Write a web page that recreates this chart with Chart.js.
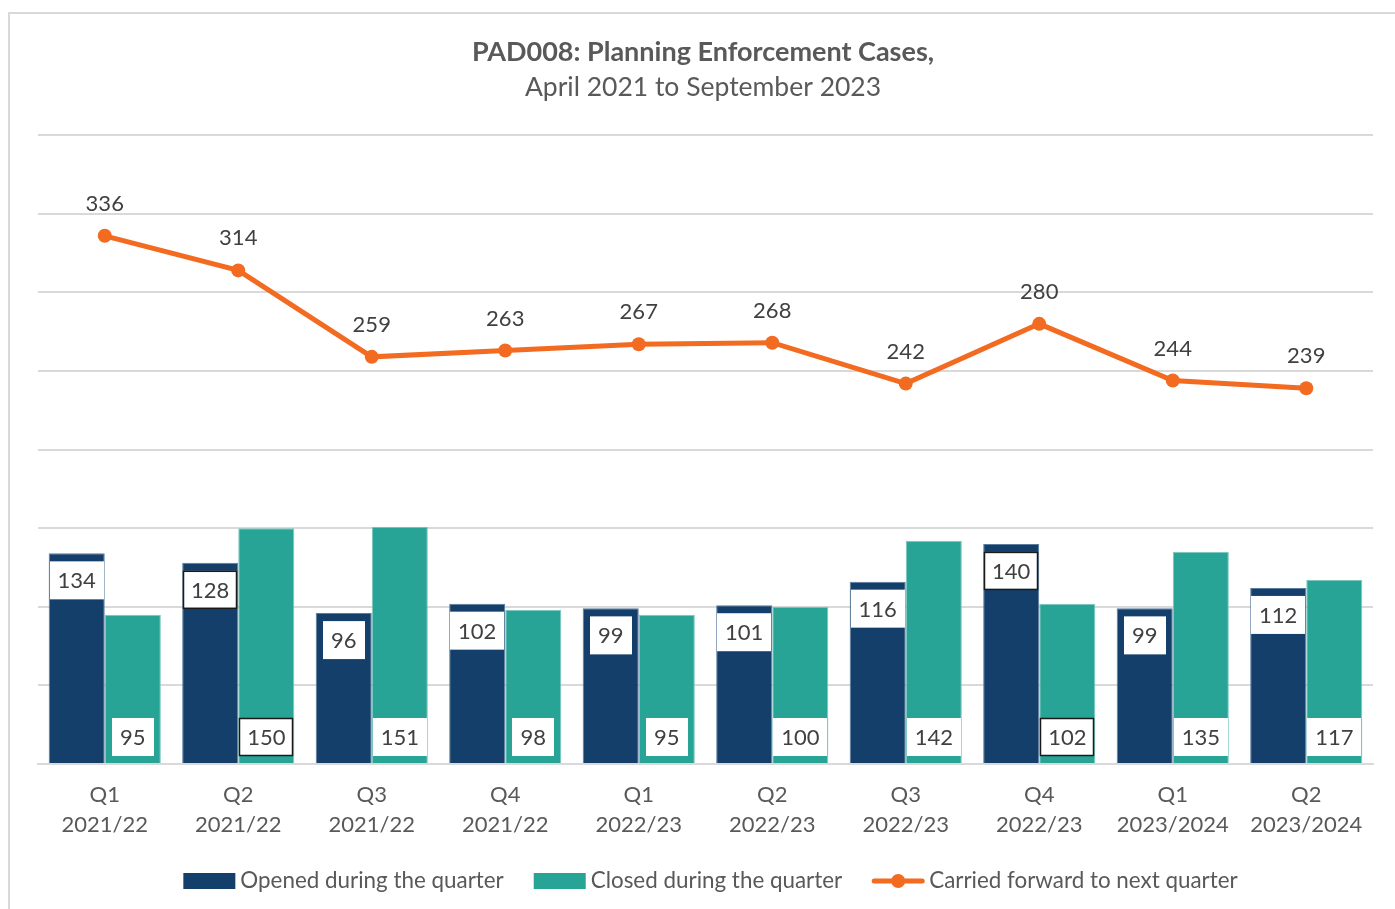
<!DOCTYPE html>
<html>
<head>
<meta charset="utf-8">
<script src="https://cdn.jsdelivr.net/npm/chart.js@4/dist/chart.umd.min.js"></script>
<style>
  html, body { margin: 0; padding: 0; background: #fff; }
  #wrap { position: relative; width: 1395px; height: 909px; overflow: hidden; }
  #frame { position: absolute; left: 8px; top: 12px; width: 1400px; height: 920px; border: 2px solid #d9d9d9; box-sizing: border-box; }
  canvas { position: absolute; left: 0; top: 0; }
</style>
</head>
<body>
<div id="wrap">
  <div id="frame"></div>
  <canvas id="mycanvas" width="1395" height="909"></canvas>
</div>
<script>
var quarters = ["Q1", "Q2", "Q3", "Q4", "Q1", "Q2", "Q3", "Q4", "Q1", "Q2"];
var years = ["2021/22", "2021/22", "2021/22", "2021/22", "2022/23", "2022/23", "2022/23", "2022/23", "2023/2024", "2023/2024"];
var openedCases = [134, 128, 96, 102, 99, 101, 116, 140, 99, 112];
var closedCases = [95, 150, 151, 98, 95, 100, 142, 102, 135, 117];
var carriedForward = [336, 314, 259, 263, 267, 268, 242, 280, 244, 239];
var yTicks = [0, 50, 100, 150, 200, 250, 300, 350, 400];

// labels drawn with a dark outline in the original
var outlinedOpened = [1, 7];
var outlinedClosed = [1, 7];

var navy = '#133f6a';
var teal = '#28a497';
var orange = '#f26b21';
var textCol = '#404040';
var font = 'Lato, "Open Sans", sans-serif';

var labels = [];
for (var i = 0; i < quarters.length; i++) {
  labels.push([quarters[i], years[i]]);
}

function drawBox(ctx, cx, top, text, outlined) {
  ctx.font = '22px ' + font;
  var w = Math.round(ctx.measureText(text).width + 16);
  var h = 38;
  var x = Math.round(cx - w / 2);
  ctx.fillStyle = '#fff';
  ctx.fillRect(x, top, w, h);
  if (outlined) {
    ctx.strokeStyle = '#1a1a1a';
    ctx.lineWidth = 1.5;
    ctx.strokeRect(x + 0.5, top + 0.5, w - 1, h - 1);
  }
  ctx.fillStyle = textCol;
  ctx.textAlign = 'center';
  ctx.textBaseline = 'middle';
  ctx.fillText(text, cx, top + h / 2 + 1);
}

var valueLabels = {
  id: 'valueLabels',
  afterDatasetsDraw: function(chart) {
    var ctx = chart.ctx;
    ctx.save();
    var m0 = chart.getDatasetMeta(0);
    var m1 = chart.getDatasetMeta(1);
    var m2 = chart.getDatasetMeta(2);
    m0.data.forEach(function(bar, i) {
      drawBox(ctx, bar.x, bar.y + 8, String(openedCases[i]), outlinedOpened.indexOf(i) >= 0);
    });
    m1.data.forEach(function(bar, i) {
      drawBox(ctx, bar.x, bar.base - 45, String(closedCases[i]), outlinedClosed.indexOf(i) >= 0);
    });
    ctx.font = '22px ' + font;
    ctx.fillStyle = textCol;
    ctx.textAlign = 'center';
    ctx.textBaseline = 'middle';
    m2.data.forEach(function(pt, i) {
      ctx.fillText(String(carriedForward[i]), pt.x, pt.y - 32);
    });
    ctx.restore();
  }
};

var bottomLegend = {
  id: 'bottomLegend',
  afterDraw: function(chart) {
    var ctx = chart.ctx;
    ctx.save();
    ctx.font = '22.4px ' + font;
    var items = chart.data.datasets.map(function(d) { return d.label; });
    var keyW = 52, gapKey = 5, gapItem = 30;
    var total = 0;
    items.forEach(function(t, i) {
      total += keyW + gapKey + ctx.measureText(t).width;
      if (i < items.length - 1) total += gapItem;
    });
    var x = (chart.width - total) / 2 + 13;
    var y = 881;
    items.forEach(function(t, i) {
      var ds = chart.data.datasets[i];
      if (ds.type === 'line') {
        ctx.strokeStyle = ds.borderColor;
        ctx.lineWidth = 5;
        ctx.lineCap = 'round';
        ctx.beginPath();
        ctx.moveTo(x + 2, y);
        ctx.lineTo(x + keyW - 2, y);
        ctx.stroke();
        ctx.fillStyle = ds.borderColor;
        ctx.beginPath();
        ctx.arc(x + keyW / 2, y, 7, 0, Math.PI * 2);
        ctx.fill();
      } else {
        ctx.fillStyle = ds.backgroundColor;
        ctx.fillRect(x, y - 8, keyW, 16);
      }
      x += keyW + gapKey;
      ctx.fillStyle = '#595959';
      ctx.textAlign = 'left';
      ctx.textBaseline = 'middle';
      ctx.fillText(t, x, y);
      x += ctx.measureText(t).width + gapItem;
    });
    ctx.restore();
  }
};

var ctx = document.getElementById('mycanvas');

var chart = new Chart(ctx, {
  data: {
    labels: labels,
    datasets: [
      {
        type: 'bar',
        label: 'Opened during the quarter',
        data: openedCases,
        backgroundColor: navy,
        borderColor: '#5b7d9e',
        borderWidth: 1,
        barPercentage: 1,
        categoryPercentage: 0.84,
        order: 2
      },
      {
        type: 'bar',
        label: 'Closed during the quarter',
        data: closedCases,
        backgroundColor: teal,
        borderColor: '#7cc7bf',
        borderWidth: 1,
        barPercentage: 1,
        categoryPercentage: 0.84,
        order: 2
      },
      {
        type: 'line',
        label: 'Carried forward to next quarter',
        data: carriedForward,
        borderColor: orange,
        backgroundColor: orange,
        borderWidth: 5,
        pointRadius: 7,
        pointBackgroundColor: orange,
        pointBorderWidth: 0,
        tension: 0,
        order: 1
      }
    ]
  },
  options: {
    responsive: false,
    animation: false,
    layout: { padding: { top: 36, right: 22, bottom: 0, left: 33 } },
    plugins: {
      legend: { display: false },
      tooltip: { enabled: false },
      title: {
        display: true,
        text: 'PAD008: Planning Enforcement Cases,',
        color: '#595959',
        font: { family: font, size: 27, weight: 'bold' },
        padding: { top: 0, bottom: 3 }
      },
      subtitle: {
        display: true,
        text: 'April 2021 to September 2023',
        color: '#595959',
        font: { family: font, size: 26.5 },
        padding: { top: 0, bottom: 32 }
      }
    },
    scales: {
      x: {
        grid: { display: false, drawTicks: false },
        border: { display: true, color: '#d9d9d9', width: 2 },
        ticks: {
          color: '#595959',
          font: { family: font, size: 22, lineHeight: 1.36 },
          padding: 16,
          maxRotation: 0,
          autoSkip: false
        },
        afterFit: function(scale) { scale.height = 145; }
      },
      y: {
        min: 0,
        max: 400,
        afterBuildTicks: function(scale) {
          scale.ticks = yTicks.map(function(v) { return { value: v }; });
        },
        grid: { color: '#d9d9d9', lineWidth: 2, drawTicks: false },
        border: { display: false },
        ticks: { display: false },
        afterFit: function(scale) { scale.width = 5; }
      }
    }
  },
  plugins: [valueLabels, bottomLegend]
});
</script>
</body>
</html>
